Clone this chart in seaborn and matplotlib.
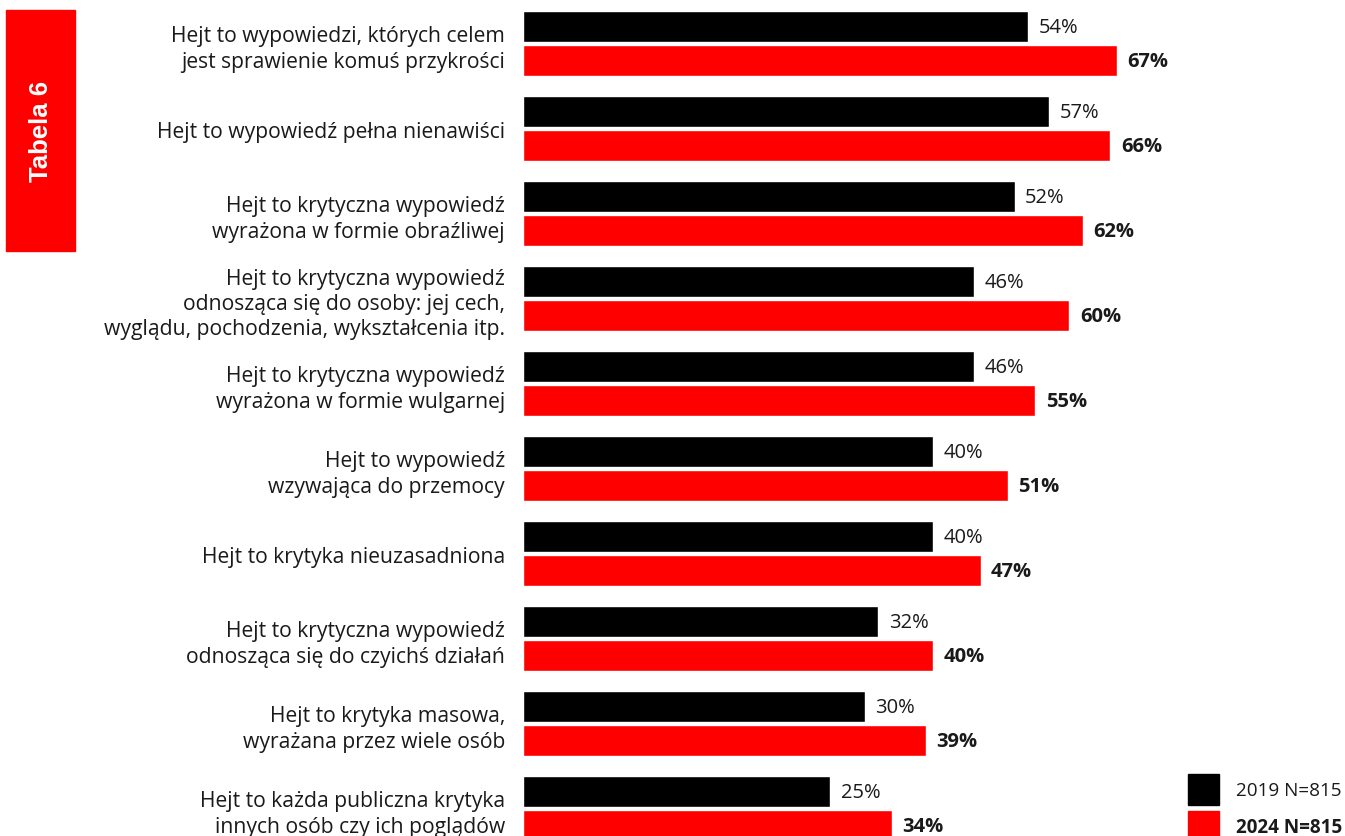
import matplotlib
matplotlib.use("Agg")
import matplotlib.pyplot as plt
from matplotlib.patches import Rectangle
import numpy as np
import seaborn as sns
import pandas as pd

categories = [
    "Hejt to wypowiedzi, których celem\njest sprawienie komuś przykrości",
    "Hejt to wypowiedź pełna nienawiści",
    "Hejt to krytyczna wypowiedź\nwyrażona w formie obraźliwej",
    "Hejt to krytyczna wypowiedź\nodnosząca się do osoby: jej cech,\nwyglądu, pochodzenia, wykształcenia itp.",
    "Hejt to krytyczna wypowiedź\nwyrażona w formie wulgarnej",
    "Hejt to wypowiedź\nwzywająca do przemocy",
    "Hejt to krytyka nieuzasadniona",
    "Hejt to krytyczna wypowiedź\nodnosząca się do czyichś działań",
    "Hejt to krytyka masowa,\nwyrażana przez wiele osób",
    "Hejt to każda publiczna krytyka\ninnych osób czy ich poglądów",
]
values_2019 = [54, 57, 52, 46, 46, 40, 40, 32, 30, 25]
values_2024 = [67, 66, 62, 60, 55, 51, 47, 40, 39, 34]
series = ["2019 N=815", "2024 N=815"]
colors = ["#000000", "#ff0000"]
tab_title = "Tabela 6"

df = pd.DataFrame({
    "cat": categories * 2,
    "val": values_2019 + values_2024,
    "series": [series[0]] * len(categories) + [series[1]] * len(categories),
})

sns.set_theme(style="white")
plt.rcParams["font.family"] = ["Open Sans", "DejaVu Sans"]

W, H = 1345, 837
fig = plt.figure(figsize=(W / 100, H / 100), dpi=100)
ax_left, ax_right = 523, 1180
ax = fig.add_axes([ax_left / W, 0, (ax_right - ax_left) / W, 1])

# the original chart draws bars from a base stub: length grows as value + 20
BASE = 20.0
def fwd(x):
    x = np.asarray(x, dtype=float)
    return np.where(x > 0, x + BASE, x)
def inv(y):
    y = np.asarray(y, dtype=float)
    return np.where(y > BASE, y - BASE, np.where(y > 0, 0.0, y))
ax.set_xscale("function", functions=(fwd, inv))

sns.barplot(data=df, y="cat", x="val", hue="series", order=categories,
            hue_order=series, palette=colors, orient="h", width=0.8,
            gap=0.0875, dodge=True, ax=ax, legend=False, saturation=1)

ax.set_xlim(0, (ax_right - ax_left) / 6.83 - BASE)
ax.set_ylim(9.318, -0.529)
ax.set_xlabel("")
ax.set_ylabel("")
ax.set_xticks([])
ax.xaxis.set_minor_locator(matplotlib.ticker.NullLocator())
for s in ax.spines.values():
    s.set_visible(False)
ax.tick_params(axis="y", length=0, pad=13, labelsize=15.2, labelcolor="#1a1a1a")
for t in ax.get_yticklabels():
    t.set_linespacing(1.26)

for i, cont in enumerate(ax.containers):
    ax.bar_label(cont, labels=[f"{v:.0f}%" for v in cont.datavalues], padding=7.5,
                 fontsize=14.5, color="#1a1a1a",
                 fontweight="bold" if i == 1 else "normal")

# Left tab
fig.patches.append(Rectangle((6 / W, 1 - 252 / H), 69 / W, 241 / H,
                             transform=fig.transFigure, color="#ff0000", zorder=0))
fig.text(41 / W, 1 - 132 / H, tab_title, rotation=90, ha="center", va="center",
         color="white", fontsize=18.5, fontweight="bold",
         family=["Liberation Sans", "DejaVu Sans"])

# Legend
for k, (name, col) in enumerate(zip(series, colors)):
    y0 = 775 + 37 * k
    fig.patches.append(Rectangle((1188 / W, 1 - (y0 + 31) / H), 31 / W, 31 / H,
                                 transform=fig.transFigure, color=col))
    fig.text(1342 / W, 1 - (y0 + 16) / H, name, ha="right", va="center",
             fontsize=13.6, color="#1a1a1a",
             fontweight="bold" if k == 1 else "normal")

fig.savefig("out.png", dpi=100)
